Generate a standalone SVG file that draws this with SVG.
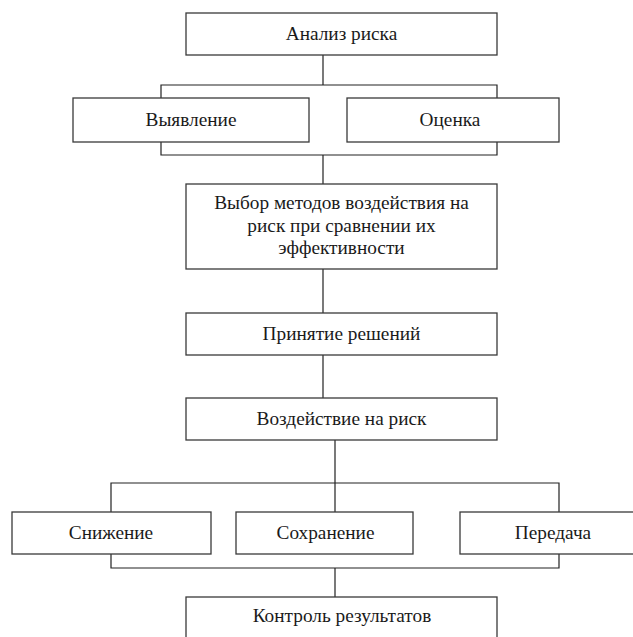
<svg xmlns="http://www.w3.org/2000/svg" width="633" height="637" viewBox="0 0 633 637">
<style>
.box{fill:#fff;stroke:#3a3a3a;stroke-width:1.3}
.t{font-family:"Liberation Serif","Times New Roman",serif;font-size:19.3px;fill:#1a1a1a;text-anchor:middle}
.c{fill:none;stroke:#222;stroke-width:1.2}
</style>
<rect width="633" height="637" fill="#fff"/>
<g id="connectors">
<path class="c" d="M323 55V85M161 98V85H497V98"/>
<path class="c" d="M161 142V155H497V142M323 155V184"/>
<path class="c" d="M323 269V313M323 355V398"/>
<path class="c" d="M335 440V512M111 512V483H559V512"/>
<path class="c" d="M111 554V568H559V554M335 568V597"/>
</g>
<g id="n1"><rect class="box" x="186" y="13" width="311" height="42"/><text class="t" x="341.5" y="40">Анализ риска</text></g>
<g id="n2"><rect class="box" x="73" y="98" width="236" height="44"/><text class="t" x="191" y="126">Выявление</text></g>
<g id="n3"><rect class="box" x="347" y="98" width="212" height="44"/><text class="t" x="450" y="126">Оценка</text></g>
<g id="n4"><rect class="box" x="186" y="184" width="311" height="85"/><text class="t" x="341.5" y="209">Выбор методов воздействия на</text><text class="t" x="341.5" y="231.5">риск при сравнении их</text><text class="t" x="341.5" y="254">эффективности</text></g>
<g id="n5"><rect class="box" x="186" y="313" width="311" height="42"/><text class="t" x="341.5" y="340">Принятие решений</text></g>
<g id="n6"><rect class="box" x="186" y="398" width="311" height="42"/><text class="t" x="341.5" y="425">Воздействие на риск</text></g>
<g id="n7"><rect class="box" x="12" y="512" width="199" height="42"/><text class="t" x="111" y="539">Снижение</text></g>
<g id="n8"><rect class="box" x="236" y="512" width="177" height="42"/><text class="t" x="325.5" y="539">Сохранение</text></g>
<g id="n9"><rect class="box" x="460" y="512" width="180" height="42"/><text class="t" x="553" y="539">Передача</text></g>
<g id="n10"><rect class="box" x="186" y="597" width="311" height="50"/><text class="t" x="342" y="622">Контроль результатов</text></g>
</svg>
